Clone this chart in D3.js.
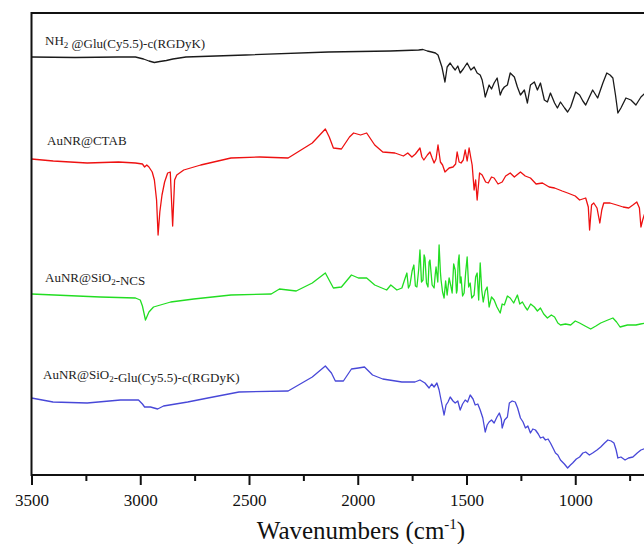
<!DOCTYPE html>
<html><head><meta charset="utf-8">
<script src="https://cdn.jsdelivr.net/npm/d3@7"></script>
<style>body{margin:0;background:#fff;} svg{display:block;}</style>
</head><body>
<svg id="chart" width="644" height="544"></svg>
<script>
// ---- data (wavenumber cm^-1, offset transmittance a.u.) ----
const seriesNames = ["NH2@Glu(Cy5.5)-c(RGDyK)", "AuNR@CTAB", "AuNR@SiO2-NCS", "AuNR@SiO2-Glu(Cy5.5)-c(RGDyK)"];
const seriesColors = ["#1a1a1a", "#ee1111", "#22dd22", "#4848d8"];

const nh2Data = [[3500,83.6],[3300,83.5],[3100,83.6],[3022,83.6],[2985,83.2],[2960,82.8],[2935,82.5],[2910,82.7],[2880,82.9],[2850,83.2],[2790,83.6],[2515,84],[2135,84.6],[1850,84.8],[1720,85],[1700,85.1],[1680,84.8],[1660,84.6],[1643,84.4],[1631,84],[1613,81.6],[1599,78.6],[1589,81.6],[1575,82.4],[1563,81.6],[1552,81],[1540,81.8],[1529,80.4],[1515,81.2],[1497,82.4],[1480,81],[1465,81.6],[1451,80.4],[1437,80],[1428,79],[1419,77],[1414,75.6],[1396,78],[1385,77.2],[1373,78.4],[1359,79.4],[1345,76],[1336,77],[1326,77.6],[1312,78],[1299,80.4],[1280,79.6],[1266,77.6],[1252,76],[1234,77],[1220,74.4],[1206,78],[1188,78.6],[1174,77],[1160,78.4],[1142,75],[1128,74.6],[1114,76.4],[1095,74.4],[1082,73.4],[1068,74.6],[1049,73.4],[1035,72.6],[1021,73.6],[998,76.6],[980,76],[965,74.8],[952,74],[935,75.6],[920,77],[897,75.4],[873,78.4],[855,80.4],[840,80],[827,79.4],[815,76],[804,72.4],[790,73.4],[767,75.4],[744,75],[721,74],[698,75.6],[674,76.6],[650,77]];

const ctabData = [[3500,63.2],[3400,62.8],[3244,62.4],[3100,62.6],[3022,62.4],[2990,62.2],[2980,61.6],[2970,62],[2960,61.6],[2945,60.6],[2935,59],[2925,55],[2918,48],[2910,52.6],[2900,56],[2888,58.6],[2874,60.4],[2862,60.6],[2851,49.8],[2842,59],[2832,60],[2800,61],[2722,62],[2583,63.4],[2450,63.6],[2320,63.4],[2209,66.4],[2149,69.2],[2131,67.6],[2112,65.4],[2075,65.2],[2038,67.6],[2019,68.4],[1987,68],[1959,68.4],[1922,66],[1885,64.6],[1829,64.4],[1790,63.8],[1770,64.4],[1751,63.6],[1735,64.2],[1714,65.4],[1705,63.6],[1696,63],[1680,64],[1668,64.6],[1658,63.4],[1649,62.4],[1640,63.2],[1631,66],[1620,62.6],[1610,62],[1599,60.6],[1580,61.4],[1562,61.6],[1550,62.2],[1543,64.6],[1534,62.6],[1525,62.4],[1515,63],[1506,65],[1497,62.8],[1488,65.4],[1480,63.4],[1474,62],[1465,57],[1458,59],[1451,55],[1440,60.4],[1428,60],[1412,58.6],[1400,58.4],[1385,59.6],[1373,59.4],[1355,58.2],[1336,58.6],[1320,59.8],[1299,60.4],[1280,59.6],[1252,60.6],[1230,59.8],[1206,59.4],[1180,58.2],[1151,58.4],[1120,57.6],[1095,57.4],[1060,56.8],[1035,56.4],[1000,55.8],[980,55],[952,55.4],[940,53.6],[934,49],[925,54],[915,54.4],[900,53.4],[887,50.4],[878,53],[869,54.4],[840,54.4],[809,54],[780,53.6],[754,53.4],[735,54],[717,54.6],[705,53.4],[698,49.6],[690,51],[680,52.4],[650,53]];

const ncsData = [[3500,36.2],[3184,35.6],[3022,35.4],[3000,35],[2990,33.8],[2976,31],[2960,32.6],[2939,33.6],[2860,34.6],[2754,35.2],[2583,36],[2398,36.2],[2360,37.2],[2283,36.8],[2209,38.4],[2149,40.4],[2112,37.4],[2075,37.6],[2029,40],[1997,39.4],[1959,39.4],[1922,38],[1867,37],[1848,38],[1820,37],[1797,37.4],[1785,39],[1774,40.4],[1767,37.4],[1760,38],[1750,40.8],[1742,42],[1735,37.8],[1728,37.6],[1720,41],[1714,45],[1707,38.6],[1700,39],[1695,44],[1691,43.4],[1684,38.4],[1677,37.6],[1672,42.6],[1668,43],[1658,38],[1649,37.4],[1644,40],[1640,41.6],[1632,38.6],[1626,46],[1620,40.6],[1617,39],[1610,36.6],[1603,35.4],[1596,38.8],[1589,36],[1580,39.4],[1572,37.8],[1566,36.4],[1559,42.2],[1552,41],[1546,36.4],[1543,37],[1538,42.6],[1534,44],[1529,38.4],[1525,39.6],[1518,35.8],[1511,36.4],[1504,40.4],[1497,43.6],[1490,37.6],[1483,38.4],[1476,35.4],[1465,36],[1458,39.6],[1451,40.4],[1444,35],[1437,42.4],[1430,37],[1423,34.6],[1414,36.8],[1405,37.6],[1396,33.6],[1385,35.6],[1373,35],[1360,33.6],[1345,32.4],[1336,34.2],[1326,34],[1312,35.8],[1299,35.4],[1283,34.4],[1266,36],[1255,34.2],[1243,34.6],[1230,33.6],[1220,33],[1205,34.2],[1188,33.6],[1174,32.8],[1160,33.4],[1145,32.2],[1128,31.4],[1110,32],[1095,31.6],[1080,30.4],[1068,30],[1045,30.2],[1021,30],[1000,30.8],[980,30.4],[955,29.8],[929,29.2],[905,29.8],[883,30.4],[850,31],[827,31.4],[810,30.6],[794,29.6],[760,30],[721,30],[700,30.2],[674,30.4],[650,30.4]];

const gluData = [[3500,15.4],[3401,14.6],[3244,14.4],[3091,15],[3008,15],[2990,14.2],[2980,13.6],[2953,13.6],[2920,13.2],[2893,13.8],[2782,14.6],[2689,15.4],[2546,16.6],[2320,16.8],[2209,19.6],[2149,21.8],[2121,20.4],[2103,18.8],[2066,18.8],[2029,21.2],[1997,21.4],[1969,21.6],[1932,20],[1885,19.2],[1797,18.6],[1737,18.6],[1714,19],[1691,18.4],[1672,17.4],[1660,18.2],[1649,17.6],[1636,18.4],[1626,17],[1617,15],[1603,12],[1594,14],[1585,14.6],[1575,15.6],[1562,14.8],[1552,14.4],[1540,14.8],[1529,13],[1518,14.2],[1506,15],[1495,14.6],[1483,16],[1470,15.2],[1460,14],[1448,14.2],[1437,13],[1425,11.4],[1414,8.6],[1405,10],[1396,10.6],[1385,11],[1373,10.4],[1360,11.6],[1349,12.4],[1340,11.2],[1336,9.4],[1325,11],[1312,11.6],[1303,14.4],[1290,14.8],[1276,14.6],[1265,13.4],[1252,11.4],[1240,10.6],[1229,9.4],[1218,9.8],[1206,8.4],[1195,9.2],[1183,9],[1170,8.2],[1160,7.4],[1148,7.6],[1137,7],[1125,7.2],[1114,6.4],[1100,5.2],[1091,4.4],[1080,4],[1068,3],[1050,2.2],[1035,1.4],[1022,2],[1012,2.4],[995,3.2],[980,3.6],[965,4.4],[952,4.6],[935,4],[920,4.4],[900,5],[883,5.6],[865,6.4],[850,7],[835,6.8],[822,6.4],[812,5],[804,3.4],[790,3.6],[771,3],[755,3.4],[735,3.6],[715,4.4],[698,5],[674,5.4],[650,5.6]];

const allSeries = [nh2Data, ctabData, ncsData, gluData];

const xTicks = [3500, 3000, 2500, 2000, 1500, 1000];
const xMinorTicks = [3250, 2750, 2250, 1750, 1250, 750];
const xTitle = "Wavenumbers (cm";

// ---- layout ----
const mLeft = 31.5, mTop = 13, mBottom = 475, mRight = 705.75;

const svg = d3.select("#chart");
const x = d3.scaleLinear().domain([3500, 400]).range([mLeft, mRight]);
const y = d3.scaleLinear().domain([0, 92.4]).range([mBottom, mTop]);

svg.append("defs").append("clipPath").attr("id", "plotclip")
  .append("rect").attr("x", mLeft).attr("y", mTop).attr("width", mRight - mLeft).attr("height", mBottom - mTop);

const line = d3.line().x(d => x(d[0])).y(d => y(d[1])).curve(d3.curveLinear);

const g = svg.append("g").attr("clip-path", "url(#plotclip)");
allSeries.forEach((s, i) => {
  g.append("path").datum(s).attr("d", line)
    .attr("fill", "none").attr("stroke", seriesColors[i])
    .attr("stroke-width", 1.3).attr("stroke-linejoin", "round");
});

// frame
svg.append("rect").attr("x", mLeft).attr("y", mTop).attr("width", mRight - mLeft).attr("height", mBottom - mTop)
  .attr("fill", "none").attr("stroke", "#111").attr("stroke-width", 2);

// axis
const font = "'Liberation Serif', 'Times New Roman', serif";
const ax = svg.append("g").attr("transform", `translate(0,${mBottom})`)
  .call(d3.axisBottom(x).tickValues(xTicks).tickSize(10).tickSizeOuter(0).tickPadding(9).tickFormat(d3.format("d")));
ax.attr("font-family", null).attr("font-size", null);
ax.select(".domain").remove();
ax.selectAll("line").attr("stroke", "#111").attr("stroke-width", 2);
ax.selectAll("text").style("font-family", font).style("font-size", "17px").attr("fill", "#111");

const axm = svg.append("g").attr("transform", `translate(0,${mBottom})`)
  .call(d3.axisBottom(x).tickValues(xMinorTicks).tickSize(6).tickSizeOuter(0).tickFormat(""));
axm.select(".domain").remove();
axm.selectAll("line").attr("stroke", "#111").attr("stroke-width", 2);

// axis title
const t = svg.append("text").attr("x", 361).attr("y", 539).attr("text-anchor", "middle")
  .style("font-family", font).style("font-size", "25px").attr("fill", "#111");
t.append("tspan").text(xTitle);
t.append("tspan").style("font-size", "15px").attr("dy", -10).text("-1");
t.append("tspan").attr("dy", 10).text(")");

// series labels
function label(xp, yp, parts) {
  const tx = svg.append("text").attr("x", xp).attr("y", yp)
    .style("font-family", font).style("font-size", "13px").attr("fill", "#222");
  parts.forEach(p => {
    if (p.sub) {
      tx.append("tspan").style("font-size", "9px").attr("dy", 3).text(p.t);
      tx.append("tspan").attr("dy", -3).text("");
    } else tx.append("tspan").text(p.t);
  });
}
label(45, 45, [{t: "NH"}, {t: "2", sub: true}, {t: " @Glu(Cy5.5)-c(RGDyK)"}]);
label(47, 145, [{t: "AuNR@CTAB"}]);
label(45, 282, [{t: "AuNR@SiO"}, {t: "2", sub: true}, {t: "-NCS"}]);
label(43, 379, [{t: "AuNR@SiO"}, {t: "2", sub: true}, {t: "-Glu(Cy5.5)-c(RGDyK)"}]);
</script>
</body></html>
